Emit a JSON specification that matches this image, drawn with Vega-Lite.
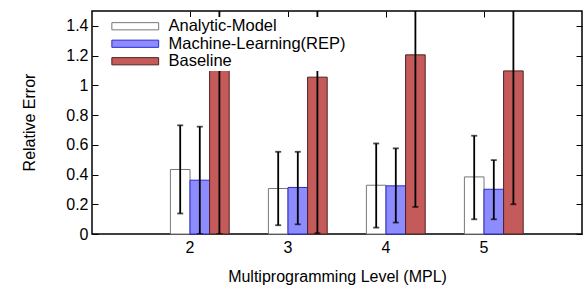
{
  "$schema": "https://vega.github.io/schema/vega-lite/v6.json",
  "width": 490,
  "height": 223,
  "autosize": "none",
  "padding": {"left": 92, "top": 11, "right": 4, "bottom": 51},
  "background": "white",
  "config": {
    "font": "Liberation Sans",
    "view": {"stroke": "black", "strokeWidth": 1.5},
    "axis": {"grid": false, "domain": false, "tickColor": "black", "tickWidth": 1, "tickSize": -6, "labelColor": "black", "labelFontSize": 16, "titleFontSize": 16, "titleFontWeight": "normal", "titleColor": "black", "labelFont": "Liberation Sans", "titleFont": "Liberation Sans"},
    "legend": {"labelFont": "Liberation Sans"}
  },
  "data": {
    "values": [
      {"mpl": 2, "series": "Analytic-Model", "value": 0.434, "lo": 0.138, "hi": 0.731},
      {"mpl": 2, "series": "Machine-Learning(REP)", "value": 0.362, "lo": 0.0, "hi": 0.722},
      {"mpl": 2, "series": "Baseline", "value": 1.3, "lo": 0.0, "hi": 2.6},
      {"mpl": 3, "series": "Analytic-Model", "value": 0.306, "lo": 0.059, "hi": 0.553},
      {"mpl": 3, "series": "Machine-Learning(REP)", "value": 0.313, "lo": 0.065, "hi": 0.553},
      {"mpl": 3, "series": "Baseline", "value": 1.055, "lo": 0.005, "hi": 2.1},
      {"mpl": 4, "series": "Analytic-Model", "value": 0.328, "lo": 0.043, "hi": 0.609},
      {"mpl": 4, "series": "Machine-Learning(REP)", "value": 0.324, "lo": 0.077, "hi": 0.576},
      {"mpl": 4, "series": "Baseline", "value": 1.205, "lo": 0.182, "hi": 2.2},
      {"mpl": 5, "series": "Analytic-Model", "value": 0.384, "lo": 0.099, "hi": 0.661},
      {"mpl": 5, "series": "Machine-Learning(REP)", "value": 0.301, "lo": 0.099, "hi": 0.497},
      {"mpl": 5, "series": "Baseline", "value": 1.097, "lo": 0.2, "hi": 2.0}
    ]
  },
  "resolve": {"axis": {"x": "independent", "y": "independent"}},
  "layer": [
    {
      "mark": {"type": "bar", "strokeWidth": 1},
      "encoding": {
        "x": {"field": "mpl", "type": "ordinal", "scale": {"domain": [2, 3, 4, 5], "paddingInner": 0, "paddingOuter": 0.5},
              "axis": {"orient": "bottom", "labelAngle": 0, "labelPadding": 11, "title": "Multiprogramming Level (MPL)", "titleY": 47, "titleBaseline": "alphabetic"}},
        "xOffset": {"field": "series", "type": "nominal", "scale": {"domain": ["Analytic-Model", "Machine-Learning(REP)", "Baseline"], "paddingInner": 0, "paddingOuter": 1, "align": 0.75}},
        "y": {"field": "value", "type": "quantitative", "scale": {"domain": [0, 1.5], "nice": false},
              "axis": {"orient": "left", "values": [0, 0.2, 0.4, 0.6, 0.8, 1, 1.2, 1.4], "format": "~g", "labelPadding": 10, "title": "Relative Error", "titleX": -58, "titleY": 111, "titleBaseline": "alphabetic", "titleAlign": "center", "titleAngle": -90}},
        "fill": {"field": "series", "type": "nominal", "scale": {"domain": ["Analytic-Model", "Machine-Learning(REP)", "Baseline"], "range": ["#ffffff", "#8c8cff", "#c45a5a"]},
                 "legend": {"orient": "none", "legendX": 34, "legendY": 6, "title": null, "symbolType": "M-3.9,-0.6H3.9V0.6H-3.9Z", "symbolSize": 144, "labelOffset": 25, "labelFontSize": 16.5, "labelLimit": 400, "labelColor": "black", "fillColor": "white", "padding": 1, "rowPadding": 0.5, "symbolStrokeWidth": 1, "symbolStrokeColor": "#444", "symbolOpacity": 1}},
        "stroke": {"field": "series", "type": "nominal", "scale": {"domain": ["Analytic-Model", "Machine-Learning(REP)", "Baseline"], "range": ["#777777", "#2a2ad0", "#502020"]}, "legend": null}
      }
    },
    {
      "mark": {"type": "rule", "color": "black", "strokeWidth": 1.8, "clip": true},
      "encoding": {
        "x": {"field": "mpl", "type": "ordinal", "axis": {"orient": "top", "labels": false, "title": null}},
        "xOffset": {"field": "series", "type": "nominal"},
        "y": {"field": "lo", "type": "quantitative", "axis": {"orient": "right", "labels": false, "title": null, "values": [0, 0.2, 0.4, 0.6, 0.8, 1, 1.2, 1.4]}},
        "y2": {"field": "hi"}
      }
    },
    {
      "mark": {"type": "tick", "color": "black", "size": 6, "thickness": 1.8, "clip": true},
      "encoding": {
        "x": {"field": "mpl", "type": "ordinal", "axis": null},
        "xOffset": {"field": "series", "type": "nominal"},
        "y": {"field": "lo", "type": "quantitative", "axis": null}
      }
    },
    {
      "mark": {"type": "tick", "color": "black", "size": 6, "thickness": 1.8, "clip": true},
      "encoding": {
        "x": {"field": "mpl", "type": "ordinal", "axis": null},
        "xOffset": {"field": "series", "type": "nominal"},
        "y": {"field": "hi", "type": "quantitative", "axis": null}
      }
    }
  ]
}
